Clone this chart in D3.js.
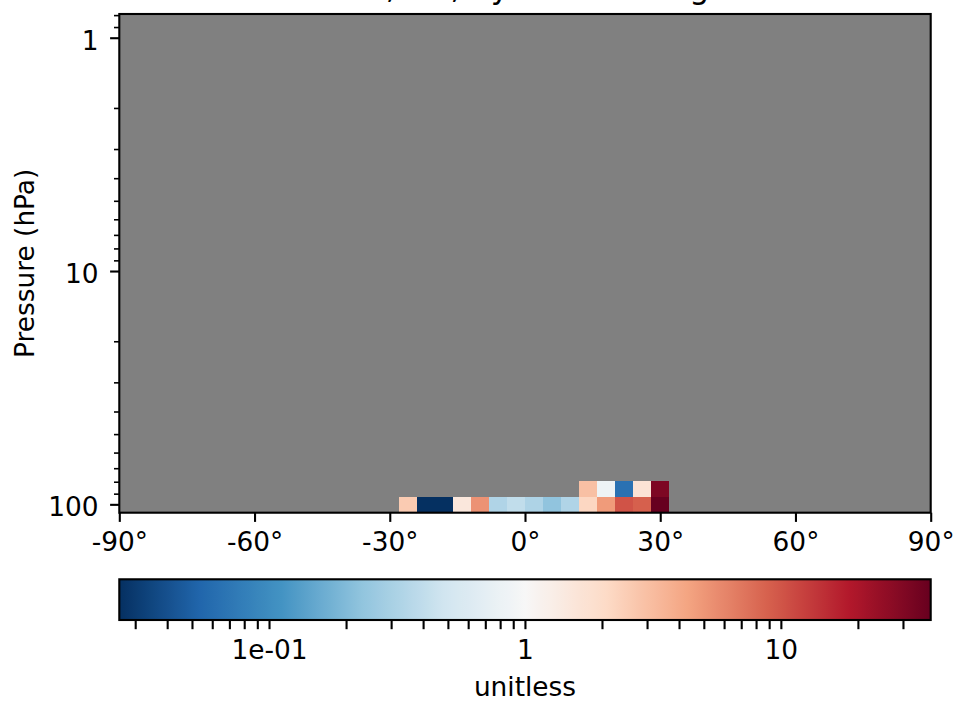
<!DOCTYPE html>
<html><head><meta charset="utf-8">
<script src="https://cdn.jsdelivr.net/npm/d3@7"></script>
<style>
body{margin:0;background:#fff}
svg{display:block}
text{font-family:"DejaVu Sans",sans-serif;fill:#000}
</style>
</head><body>
<svg id="chart" width="955" height="703"></svg>
<script>
// ---------------- data ----------------
const titleText = "O3, 2D, by latitude avg";
const yLabelText = "Pressure (hPa)";
const cbLabelText = "unitless";

const latCenters = [-26, -22, -18, -14, -10, -6, -2, 2, 6, 10, 14, 18, 22, 26, 30];
const latBinWidth = 4;
// pressure cell edges (hPa): row 0 spans levelEdges[0]..levelEdges[1], row 1 spans levelEdges[1]..levelEdges[2]
const levelEdges = [108.6, 92.8, 79.4];
const row100hPa = [2.58, 0.02, 0.02, 1.52, 5.25, 0.33, 0.40, 0.32, 0.23, 0.33, 2.2, 4.8, 10.2, 8.9, 45];
const row86hPa  = [null, null, null, null, null, null, null, null, null, null, 3.0, 0.84, 0.065, 1.68, 31];

const xTicks = [-90, -60, -30, 0, 30, 60, 90];
const xTickLabels = ["-90°", "-60°", "-30°", "0°", "30°", "60°", "90°"];
const yMajorTicks = [1, 10, 100];
const yTickLabels = ["1", "10", "100"];
const yMinorTicks = [0.8, 0.9, 2, 3, 4, 5, 6, 7, 8, 9, 20, 30, 40, 50, 60, 70, 80, 90];
const cbMajorTicks = [0.1, 1, 10];
const cbTickLabels = ["1e-01", "1", "10"];
const cbMinorTicks = [0.03, 0.04, 0.05, 0.06, 0.07, 0.08, 0.09, 0.2, 0.3, 0.4, 0.5, 0.6, 0.7, 0.8, 0.9, 2, 3, 4, 5, 6, 7, 8, 9, 20, 30];

const latDomain = [-90, 90];
const pressureDomain = [0.7913, 108.6];
const colorDomain = [0.026, 38.5];
// matplotlib RdBu_r control colours
const rdbuR = ["#053061", "#2166ac", "#4393c3", "#92c5de", "#d1e5f0", "#f7f7f7",
               "#fddbc7", "#f4a582", "#d6604d", "#b2182b", "#67001f"];

// ---------------- layout ----------------
const FS = 26.4;
const ax = {x0: 119.3, x1: 930.7, y0: 14, y1: 512.7};
const cb = {x0: 119.3, x1: 930.7, y0: 579.3, y1: 620};
const LW = 2.1, majorLen = 9.2, minorLen = 5.3, minorLW = 1.6;

const svg = d3.select("#chart");

const x = d3.scaleLinear().domain(latDomain).range([ax.x0, ax.x1]);
const y = d3.scaleLog().domain(pressureDomain).range([ax.y0, ax.y1]);
const norm = d3.scaleLog().domain(colorDomain).range([0, 1]).clamp(true);
const cmap = d3.scaleLinear().domain(d3.range(rdbuR.length).map(i => i / (rdbuR.length - 1)))
  .range(rdbuR).interpolate(d3.interpolateRgb).clamp(true);
const color = v => cmap(norm(v));

// background (missing data)
svg.append("rect").attr("x", ax.x0).attr("y", ax.y0)
  .attr("width", ax.x1 - ax.x0).attr("height", ax.y1 - ax.y0).attr("fill", "#808080");

// cells
const rows = [row100hPa, row86hPa];
const cells = [];
rows.forEach((row, r) => row.forEach((v, i) => {
  if (v != null) cells.push({lat: latCenters[i], pBot: levelEdges[r], pTop: levelEdges[r + 1], v});
}));
svg.append("g").selectAll("rect").data(cells).join("rect")
  .attr("x", d => x(d.lat - latBinWidth / 2))
  .attr("width", d => x(d.lat + latBinWidth / 2) - x(d.lat - latBinWidth / 2))
  .attr("y", d => y(d.pTop))
  .attr("height", d => y(d.pBot) - y(d.pTop))
  .attr("fill", d => color(d.v))
  .attr("shape-rendering", "crispEdges");

// x axis
const gx = svg.append("g").attr("transform", `translate(0,${ax.y1})`)
  .call(d3.axisBottom(x).tickValues(xTicks).tickSize(majorLen)
        .tickFormat((d, i) => xTickLabels[i]));
gx.select(".domain").remove();
gx.selectAll(".tick line").attr("stroke", "#000").attr("stroke-width", LW);
gx.selectAll(".tick text").attr("y", 38.7).attr("dy", null)
  .attr("font-size", FS).attr("font-family", "DejaVu Sans").attr("fill", "#000");

// y axis major
const gy = svg.append("g").attr("transform", `translate(${ax.x0},0)`)
  .call(d3.axisLeft(y).tickValues(yMajorTicks).tickSize(majorLen)
        .tickFormat((d, i) => yTickLabels[i]));
gy.select(".domain").remove();
gy.selectAll(".tick line").attr("stroke", "#000").attr("stroke-width", LW);
gy.selectAll(".tick text").attr("x", -20.7).attr("dy", 11.5)
  .attr("font-size", FS).attr("font-family", "DejaVu Sans").attr("fill", "#000");
// y axis minor
const gym = svg.append("g").attr("transform", `translate(${ax.x0},0)`)
  .call(d3.axisLeft(y).tickValues(yMinorTicks).tickSize(minorLen).tickFormat(""));
gym.select(".domain").remove();
gym.selectAll(".tick line").attr("stroke", "#000").attr("stroke-width", minorLW);

// axes frame
svg.append("rect").attr("x", ax.x0).attr("y", ax.y0)
  .attr("width", ax.x1 - ax.x0).attr("height", ax.y1 - ax.y0)
  .attr("fill", "none").attr("stroke", "#000").attr("stroke-width", LW);

// title (mostly above the visible page, as in the reference)
svg.append("text").attr("x", (ax.x0 + ax.x1) / 2).attr("y", -2)
  .attr("text-anchor", "middle").attr("font-size", FS * 1.2).text(titleText);

// y label
svg.append("text").attr("transform", `translate(33.5,${(ax.y0 + ax.y1) / 2}) rotate(-90)`)
  .attr("text-anchor", "middle").attr("font-size", FS).text(yLabelText);

// colorbar
const cx = d3.scaleLog().domain(colorDomain).range([cb.x0, cb.x1]);
const defs = svg.append("defs");
const grad = defs.append("linearGradient").attr("id", "cbgrad")
  .attr("x1", "0%").attr("x2", "100%").attr("y1", "0%").attr("y2", "0%");
d3.range(0, 101).forEach(i => {
  const t = i / 100;
  grad.append("stop").attr("offset", `${i}%`).attr("stop-color", cmap(t));
});
svg.append("rect").attr("x", cb.x0).attr("y", cb.y0)
  .attr("width", cb.x1 - cb.x0).attr("height", cb.y1 - cb.y0).attr("fill", "url(#cbgrad)");

const gc = svg.append("g").attr("transform", `translate(0,${cb.y1})`)
  .call(d3.axisBottom(cx).tickValues(cbMajorTicks).tickSize(majorLen)
        .tickFormat((d, i) => cbTickLabels[i]));
gc.select(".domain").remove();
gc.selectAll(".tick line").attr("stroke", "#000").attr("stroke-width", LW);
gc.selectAll(".tick text").attr("y", 38.7).attr("dy", null)
  .attr("font-size", FS).attr("font-family", "DejaVu Sans").attr("fill", "#000");
const gcm = svg.append("g").attr("transform", `translate(0,${cb.y1})`)
  .call(d3.axisBottom(cx).tickValues(cbMinorTicks).tickSize(majorLen).tickFormat(""));
gcm.select(".domain").remove();
gcm.selectAll(".tick line").attr("stroke", "#000").attr("stroke-width", LW);

svg.append("rect").attr("x", cb.x0).attr("y", cb.y0)
  .attr("width", cb.x1 - cb.x0).attr("height", cb.y1 - cb.y0)
  .attr("fill", "none").attr("stroke", "#000").attr("stroke-width", LW);

svg.append("text").attr("x", (cb.x0 + cb.x1) / 2).attr("y", 696)
  .attr("text-anchor", "middle").attr("font-size", FS).text(cbLabelText);
</script>
</body></html>
